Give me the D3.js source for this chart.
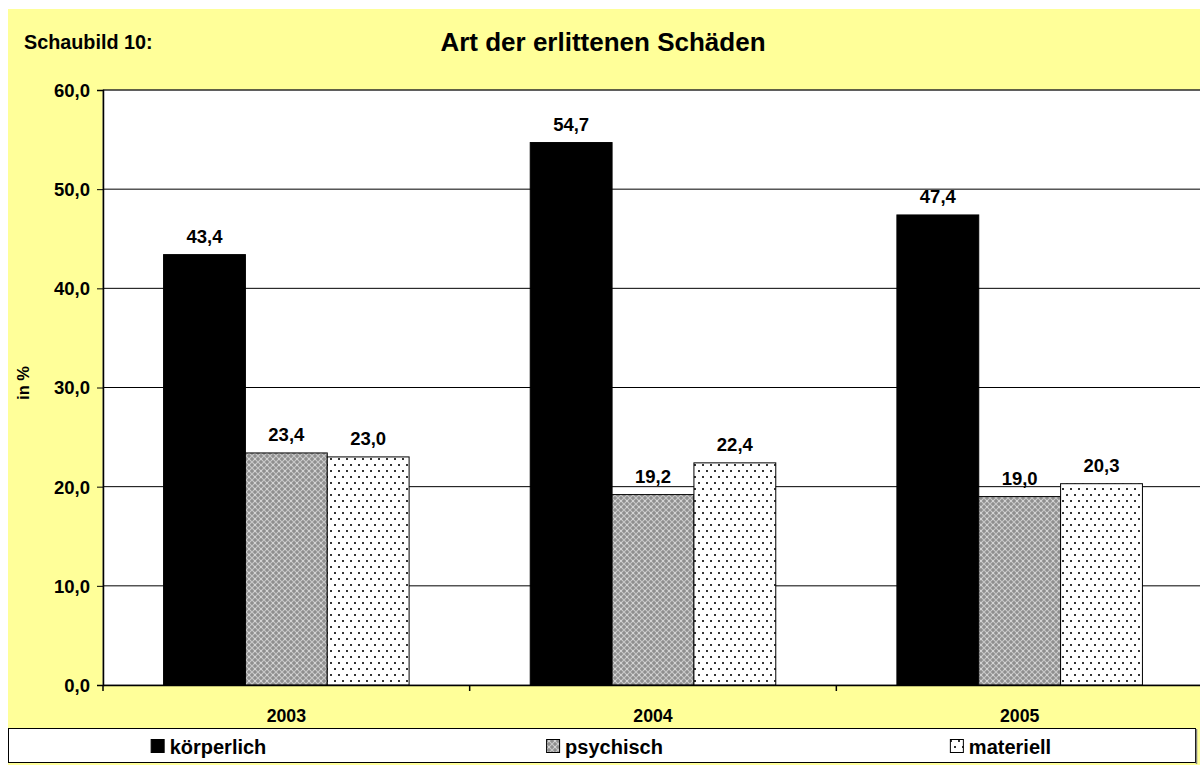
<!DOCTYPE html>
<html>
<head>
<meta charset="utf-8">
<script src="https://cdn.jsdelivr.net/npm/d3@7"></script>
<style>
body { margin:0; background:#fff; }
text { font-family: "Liberation Sans", Arial, sans-serif; font-weight:bold; fill:#000; }
</style>
</head>
<body>
<svg id="chart"></svg>
<script>
var years = ["2003","2004","2005"]
var seriesNames = ["körperlich","psychisch","materiell"]
var koerperlich = [43.4, 54.7, 47.4]
var psychisch = [23.4, 19.2, 19.0]
var materiell = [23.0, 22.4, 20.3]
var yTicks = [0,10,20,30,40,50,60]

var w = 1200, h = 765
var plot = {left:103, right:1203, top:90, bottom:685}

var svg = d3.select("#chart").attr("width",w).attr("height",h)

// patterns
var defs = svg.append("defs")
var p1 = defs.append("pattern").attr("id","pat-psy")
    .attr("patternUnits","userSpaceOnUse").attr("width",6).attr("height",6)
p1.append("rect").attr("width",6).attr("height",6).attr("fill","#8f8f8f")
p1.append("path").attr("d","M0,0L6,6M6,0L0,6").attr("stroke","#c8c8c8").attr("stroke-width",1.2)
p1.append("rect").attr("x",2.5).attr("y",2.5).attr("width",1).attr("height",1).attr("fill","#fff")

var p2 = defs.append("pattern").attr("id","pat-mat")
    .attr("patternUnits","userSpaceOnUse").attr("width",8).attr("height",12)
p2.append("rect").attr("width",8).attr("height",12).attr("fill","#fff")
p2.append("rect").attr("x",2).attr("y",2).attr("width",2).attr("height",2).attr("fill","#333")
p2.append("rect").attr("x",6).attr("y",8).attr("width",2).attr("height",2).attr("fill","#333")

var fills = ["#000","url(#pat-psy)","url(#pat-mat)"]

// background
svg.append("rect").attr("x",8).attr("y",9).attr("width",w-8).attr("height",h-9).attr("fill","#ffff99")

// plot area
svg.append("rect").attr("x",plot.left).attr("y",plot.top)
    .attr("width",plot.right-plot.left).attr("height",plot.bottom-plot.top)
    .attr("fill","#fff").attr("stroke","#808080").attr("stroke-width",1)

var x = d3.scaleBand().domain(years).range([plot.left,plot.right])
var x1 = d3.scaleBand().domain(seriesNames).range([0,x.bandwidth()]).paddingOuter(0.74).paddingInner(0)
var y = d3.scaleLinear().domain([0,60]).range([plot.bottom,plot.top])

// gridlines
svg.append("g").selectAll("line").data(yTicks.filter(function(d){return d>0}))
    .enter().append("line")
    .attr("x1",plot.left).attr("x2",plot.right)
    .attr("y1",function(d){return y(d)}).attr("y2",function(d){return y(d)})
    .attr("stroke","#000").attr("stroke-width",1)

// bars
var series = [koerperlich, psychisch, materiell]
series.forEach(function(vals, si)
{
    var g = svg.append("g")
    g.selectAll("rect").data(vals).enter().append("rect")
    .attr("x",function(d,i){return x(years[i])+x1(seriesNames[si])})
    .attr("y",function(d){return y(d)})
    .attr("width",x1.bandwidth())
    .attr("height",function(d){return plot.bottom-y(d)})
    .attr("fill",fills[si])
    .attr("stroke","#000").attr("stroke-width",1)

    g.selectAll("text").data(vals).enter().append("text")
    .attr("x",function(d,i){return x(years[i])+x1(seriesNames[si])+x1.bandwidth()/2})
    .attr("y",function(d){return y(d)-12})
    .attr("text-anchor","middle")
    .style("font-size","18.5px")
    .text(function(d){return d.toFixed(1).replace(".",",")})
})

// axes
var yAxis = d3.axisLeft(y).tickValues(yTicks).tickSize(6)
    .tickFormat(function(d){return d.toFixed(1).replace(".",",")})
var ya = svg.append("g").attr("transform","translate("+plot.left+",0)").call(yAxis)
ya.select(".domain").attr("stroke","#000").attr("stroke-width",1.5)
ya.selectAll(".tick line").attr("stroke","#000")
ya.selectAll(".tick text").style("font-size","18.5px").attr("x",-13).attr("dy","0.35em")

var xAxis = d3.axisBottom(x).tickSize(0)
var xa = svg.append("g").attr("transform","translate(0,"+plot.bottom+")").call(xAxis)
xa.select(".domain").attr("stroke","#000").attr("stroke-width",1.5)
xa.selectAll(".tick text").style("font-size","17.7px").attr("y",37).attr("dy",0)
// category separators
svg.append("g").selectAll("line").data(years).enter().append("line")
    .attr("x1",function(d){return x(d)}).attr("x2",function(d){return x(d)})
    .attr("y1",plot.bottom).attr("y2",plot.bottom+6)
    .attr("stroke","#000").attr("stroke-width",1.5)

// titles
svg.append("text").text("Schaubild 10:")
    .attr("x",24).attr("y",49).style("font-size","19.8px")
svg.append("text").text("Art der erlittenen Schäden")
    .attr("x",603).attr("y",51).attr("text-anchor","middle").style("font-size","26px")
svg.append("text").text("in %")
    .attr("transform","translate(29,383) rotate(-90)")
    .attr("text-anchor","middle").style("font-size","16.5px")

// legend
var lg = svg.append("g")
lg.append("rect").attr("x",8.5).attr("y",728.5).attr("width",1187).attr("height",34)
    .attr("fill","#fff").attr("stroke","#000").attr("stroke-width",1)
lg.append("line").attr("x1",1196.5).attr("x2",1196.5).attr("y1",729).attr("y2",764)
    .attr("stroke","#808080").attr("stroke-width",1.5)
var lx = d3.scaleBand().domain(seriesNames).range([10,1198])
seriesNames.forEach(function(name, i)
{
    var item = lg.append("g")
    var t = item.append("text").text(name)
        .attr("y",754).style("font-size","20px")
    var tw = t.node().getComputedTextLength()
    var total = 13 + 5 + tw
    var start = lx(name) + lx.bandwidth()/2 - total/2
    item.append("rect").attr("x",start+0.5).attr("y",739.5).attr("width",13).attr("height",13)
        .attr("fill",fills[i]).attr("stroke","#000").attr("stroke-width",1)
    t.attr("x",start+19)
})
</script>
</body>
</html>
